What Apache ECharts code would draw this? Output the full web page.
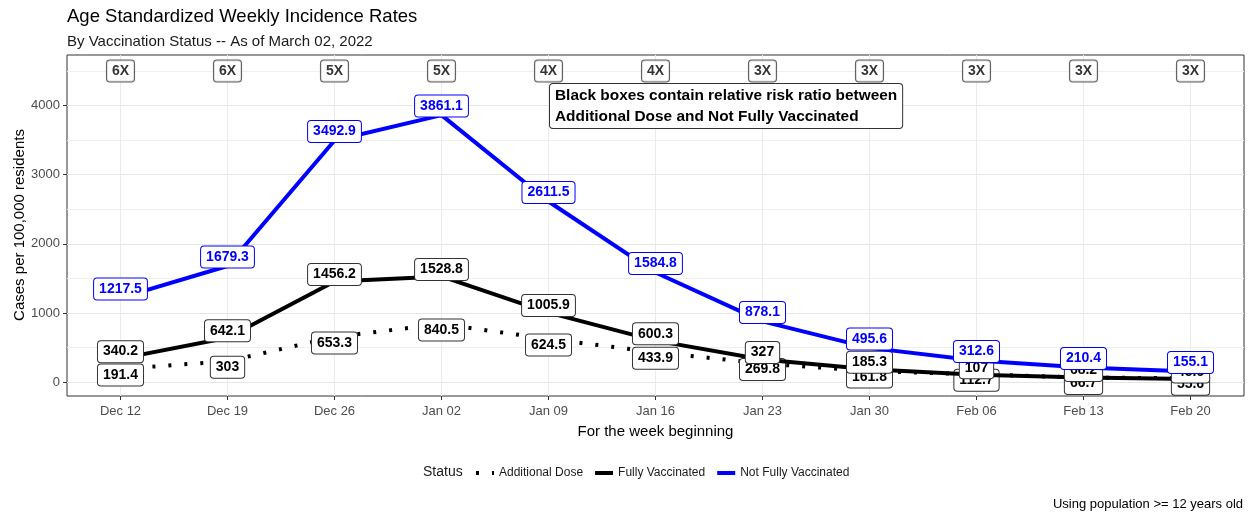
<!DOCTYPE html>
<html>
<head>
<meta charset="utf-8">
<script src="https://cdn.jsdelivr.net/npm/echarts@6/dist/echarts.min.js"></script>
<style>
  html, body { margin: 0; padding: 0; background: #fff; }
  #chart { width: 1253px; height: 516px; }
</style>
</head>
<body>
<div id="chart"></div>
<script>
// weeks (x axis)
var weeks = ['Dec 12', 'Dec 19', 'Dec 26', 'Jan 02', 'Jan 09', 'Jan 16', 'Jan 23', 'Jan 30', 'Feb 06', 'Feb 13', 'Feb 20'];

// rates per 100,000
var notFully = [1217.5, 1679.3, 3492.9, 3861.1, 2611.5, 1584.8, 878.1, 495.6, 312.6, 210.4, 155.1];
var fullyVax = [340.2, 642.1, 1456.2, 1528.8, 1005.9, 600.3, 327, 185.3, 107, 68.2, 45.6];
var additionalDose = [191.4, 303, 653.3, 840.5, 624.5, 433.9, 269.8, 161.8, 112.7, 66.7, 55.6];

// risk ratio boxes on top row
var ratioLabels = ['6X', '6X', '5X', '5X', '4X', '4X', '3X', '3X', '3X', '3X', '3X'];
var ratioRowY = 4500;

var yTicks = [0, 1000, 2000, 3000, 4000];

var font = 'Liberation Sans, Arial, sans-serif';

function boxLabel(color, dy) {
    return {
        show: true,
        position: 'inside',
        offset: [0, dy],
        color: color,
        fontFamily: font,
        fontSize: 14,
        fontWeight: 'bold',
        lineHeight: 16,
        backgroundColor: '#fff',
        borderColor: color === '#000' ? '#333' : color,
        borderWidth: 1,
        borderRadius: 3,
        padding: [3, 5, 2, 5]
    };
}

var myChart = echarts.init(document.getElementById('chart'));

// minor grid (500s) on a hidden helper axis, cycling every 100 units from -200
var T = 'rgba(0,0,0,0)';
var minorCols = [T, T, T, T, T, T, T, '#f0f0f0', T, T];

var option = {
    animation: false,
    backgroundColor: '#fff',
    title: {
        text: 'Age Standardized Weekly Incidence Rates',
        subtext: 'By Vaccination Status -- As of March 02, 2022',
        left: 62,
        top: 2,
        itemGap: 8,
        textStyle: { fontFamily: font, fontSize: 18.5, fontWeight: 'normal', color: '#000' },
        subtextStyle: { fontFamily: font, fontSize: 15, color: '#1a1a1a' }
    },
    grid: {
        left: 67,
        right: 9,
        top: 55,
        bottom: 120,
        containLabel: false,
        outerBoundsMode: 'none',
        show: true,
        borderColor: '#333',
        borderWidth: 1,
        backgroundColor: '#fff'
    },
    legend: {
        data: ['Additional Dose', 'Fully Vaccinated', 'Not Fully Vaccinated'],
        left: 469,
        top: 462,
        itemWidth: 18,
        itemHeight: 14,
        itemGap: 10,
        itemStyle: { opacity: 0 },
        lineStyle: { width: 4 },
        textStyle: { fontFamily: font, fontSize: 12, color: '#1a1a1a' }
    },
    xAxis: {
        type: 'category',
        data: weeks,
        boundaryGap: true,
        name: 'For the week beginning',
        nameLocation: 'middle',
        nameGap: 28,
        nameTextStyle: { fontFamily: font, fontSize: 15, color: '#000' },
        axisLine: { show: false, onZero: false },
        axisTick: { show: true, alignWithLabel: true, length: 4, lineStyle: { color: '#333' } },
        axisLabel: { fontFamily: font, fontSize: 13, color: '#4d4d4d', margin: 9 },
        splitLine: { show: true, alignWithLabel: true, lineStyle: { color: '#ebebeb', width: 1 } }
    },
    yAxis: [
        {
            type: 'value',
            min: -200,
            max: 4730,
            interval: 100,
            axisLine: { show: false, onZero: false },
            axisTick: { show: true, length: 4, customValues: yTicks, lineStyle: { color: '#333' } },
            axisLabel: {
                fontFamily: font, fontSize: 13, color: '#4d4d4d', margin: 7,
                customValues: yTicks,
                formatter: function (v) {
                    return yTicks.indexOf(v) >= 0 ? String(v) : '';
                }
            },
            splitLine: { show: true, lineStyle: { color: '#e6e6e6', width: 1 } }
        },
        {
            type: 'value',
            min: -200,
            max: 4730,
            interval: 100,
            position: 'left',
            axisLine: { show: false, onZero: false },
            axisTick: { show: false },
            axisLabel: { show: false },
            splitLine: { show: true, lineStyle: { color: minorCols, width: 1 } }
        }
    ],
    graphic: [
        {
            type: 'text',
            x: 20,
            y: 225,
            rotation: Math.PI / 2,
            style: {
                text: 'Cases per 100,000 residents',
                font: '15px ' + font,
                fill: '#000',
                align: 'center',
                verticalAlign: 'middle'
            }
        },
        {
            type: 'text',
            left: 423,
            top: 465,
            style: { text: 'Status', font: '14px ' + font, fill: '#1a1a1a' }
        },
        {
            type: 'text',
            right: 10,
            top: 498,
            style: { text: 'Using population >= 12 years old', font: '13px ' + font, fill: '#000' }
        },
        {
            type: 'text',
            left: 549,
            top: 83,
            z: 100,
            style: {
                text: 'Black boxes contain relative risk ratio between\nAdditional Dose and Not Fully Vaccinated',
                font: 'bold 15.4px ' + font,
                fill: '#000',
                lineHeight: 21,
                backgroundColor: '#fff',
                borderColor: '#333',
                borderWidth: 1,
                borderRadius: 3,
                padding: [1, 5, 1, 5]
            }
        }
    ],
    series: [
        {
            name: 'Additional Dose',
            type: 'line',
            data: additionalDose,
            z: 2,
            symbol: 'circle',
            symbolSize: 1,
            itemStyle: { color: '#000' },
            lineStyle: { color: '#000', width: 4, type: [3, 13], cap: 'butt' },
            label: boxLabel('#000', 6)
        },
        {
            name: 'Fully Vaccinated',
            type: 'line',
            data: fullyVax,
            z: 3,
            symbol: 'circle',
            symbolSize: 1,
            itemStyle: { color: '#000' },
            lineStyle: { color: '#000', width: 4, cap: 'butt' },
            label: boxLabel('#000', -7)
        },
        {
            name: 'Not Fully Vaccinated',
            type: 'line',
            data: notFully,
            z: 4,
            symbol: 'circle',
            symbolSize: 1,
            itemStyle: { color: '#0000ff' },
            lineStyle: { color: '#0000ff', width: 4, cap: 'butt' },
            label: boxLabel('#0000ff', -9)
        },
        {
            name: 'ratio',
            type: 'scatter',
            data: weeks.map(function () { return ratioRowY; }),
            z: 5,
            symbolSize: 1,
            itemStyle: { color: 'rgba(0,0,0,0)' },
            label: Object.assign(boxLabel('#000', 0), {
                formatter: function (p) { return ratioLabels[p.dataIndex]; }
            })
        }
    ]
};

myChart.setOption(option);
</script>
</body>
</html>
